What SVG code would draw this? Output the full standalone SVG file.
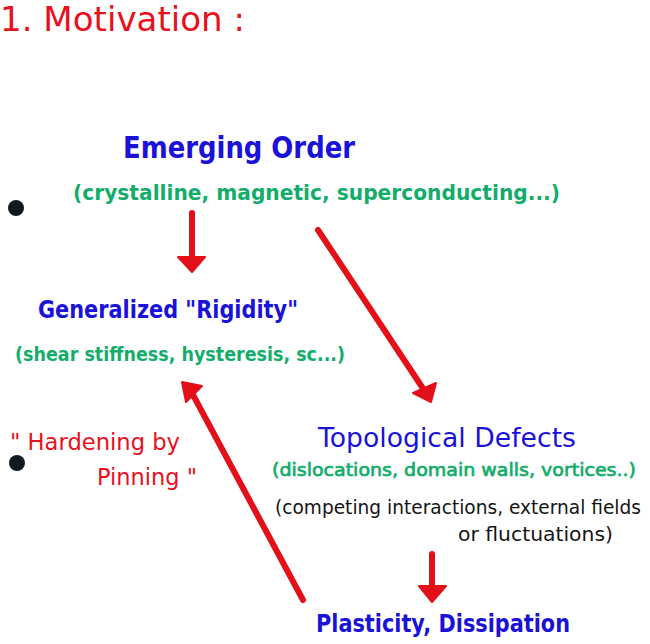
<svg xmlns="http://www.w3.org/2000/svg" width="650" height="644" viewBox="0 0 650 644">
<style>
text{font-family:"DejaVu Sans","Noto Sans",sans-serif;}
.red{fill:#e8101c;}
.blue{fill:#1a12d8;}
.green{fill:#12ad6a;}
.black{fill:#141414;}
.conn line{stroke:#e3101a;stroke-width:6;stroke-linecap:round;}
.conn polygon{fill:#e3101a;stroke:#e3101a;stroke-width:2;stroke-linejoin:round;}
</style>
<rect width="650" height="644" fill="#fff"/>
<g id="title"><text class="red" x="0" y="31" font-size="33" textLength="245" lengthAdjust="spacingAndGlyphs">1.  Motivation :</text></g>
<g id="bullets"><circle cx="16" cy="208" r="8" fill="#111a1e"/><circle cx="17" cy="463" r="8" fill="#111a1e"/></g>
<g id="emerging-order">
<text class="blue" x="123" y="158" font-size="30" font-weight="600" textLength="232" lengthAdjust="spacingAndGlyphs">Emerging Order</text>
<text class="green" x="73" y="200" font-size="22" font-weight="600" textLength="487" lengthAdjust="spacingAndGlyphs">(crystalline, magnetic, superconducting...)</text>
</g>
<g id="rigidity">
<text class="blue" x="38" y="318" font-size="24" font-weight="600" textLength="260" lengthAdjust="spacingAndGlyphs">Generalized "Rigidity"</text>
<text class="green" x="15" y="361" font-size="20" font-weight="600" textLength="330" lengthAdjust="spacingAndGlyphs">(shear stiffness, hysteresis, sc...)</text>
</g>
<g id="hardening">
<text class="red" x="10" y="450" font-size="23" textLength="170" lengthAdjust="spacingAndGlyphs">" Hardening by</text>
<text class="red" x="97" y="485" font-size="23" textLength="100" lengthAdjust="spacingAndGlyphs">Pinning "</text>
</g>
<g id="defects">
<text class="blue" x="318" y="447" font-size="26" textLength="258" lengthAdjust="spacingAndGlyphs">Topological Defects</text>
<text class="green" x="272" y="476" font-size="18" stroke="#12ad6a" stroke-width="0.7" textLength="364" lengthAdjust="spacingAndGlyphs">(dislocations, domain walls, vortices..)</text>
<text class="black" x="275" y="514" font-size="19" textLength="366" lengthAdjust="spacingAndGlyphs">(competing interactions, external fields</text>
<text class="black" x="458" y="541" font-size="19" textLength="155" lengthAdjust="spacingAndGlyphs">or fluctuations)</text>
</g>
<g id="plasticity">
<text class="blue" x="316" y="632" font-size="24" font-weight="600" textLength="254" lengthAdjust="spacingAndGlyphs">Plasticity, Dissipation</text>
</g>
<g id="connectors" class="conn">
<line x1="192" y1="213" x2="192" y2="258"/>
<polygon points="178,257 205,257 192,272"/>
<line x1="318" y1="230" x2="424" y2="390"/>
<polygon points="413,393 436,383 431,402"/>
<line x1="303" y1="600" x2="192" y2="393"/>
<polygon points="182,382 202,386 186,402"/>
<line x1="432" y1="554" x2="432" y2="587"/>
<polygon points="419,586 446,586 432,602"/>
</g>
</svg>
